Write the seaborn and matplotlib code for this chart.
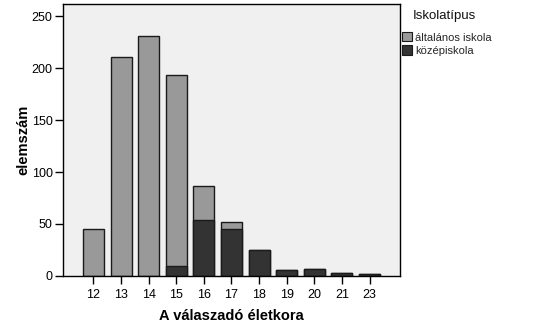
import matplotlib
matplotlib.use("Agg")
import matplotlib.pyplot as plt
import seaborn as sns
import pandas as pd
from matplotlib.patches import Patch

ages = ["12", "13", "14", "15", "16", "17", "18", "19", "20", "21", "23"]
altalanos = [45, 211, 231, 184, 33, 7, 0, 0, 0, 0, 0]
kozep = [0, 0, 0, 10, 54, 45, 25, 6, 7, 3, 2]
yticks = [0, 50, 100, 150, 200, 250]

light = "#999999"
dark = "#333333"

df = pd.DataFrame({"age": ages, "altalanos": altalanos, "kozep": kozep})
df["total"] = df["altalanos"] + df["kozep"]

sns.set_style("ticks")
plt.rcParams["font.family"] = ["Liberation Sans", "DejaVu Sans"]

fig = plt.figure(figsize=(5.34, 3.34), dpi=100)
ax = fig.add_axes([0.118, 0.174, 0.631, 0.814])
ax.set_facecolor("#F0F0F0")

# totals in light grey, the középiskola share drawn over them from the bottom
sns.barplot(data=df, x="age", y="total", order=ages, color=light,
            width=0.76, edgecolor="#1a1a1a", linewidth=1.0, saturation=1,
            ax=ax)
sns.barplot(data=df[df["kozep"] > 0], x="age", y="kozep", order=ages,
            color=dark, width=0.76, edgecolor="#1a1a1a", linewidth=1.0,
            saturation=1, ax=ax)

ax.set_xlim(-1.1, 11.1)
ax.set_ylim(0, 262)
ax.set_yticks(yticks)
ax.set_yticklabels([str(v) for v in yticks])
ax.tick_params(axis="both", direction="out", length=6, width=1,
               color="black", labelsize=9, colors="black")
ax.tick_params(axis="y", pad=1.5)
for s in ax.spines.values():
    s.set_visible(True)
    s.set_color("black")
    s.set_linewidth(1)

ax.set_xlabel("A válaszadó életkora", fontsize=10.5, fontweight="bold",
              labelpad=6, color="black")
ax.set_ylabel("elemszám", fontsize=10.5, fontweight="bold", labelpad=1,
              color="black")

fig.text(413 / 534, 1 - 16 / 334, "Iskolatípus", fontsize=9.5,
         ha="left", va="center", color="#111111")
handles = [Patch(facecolor=light, edgecolor="#1a1a1a", linewidth=0.8),
           Patch(facecolor=dark, edgecolor="#1a1a1a", linewidth=0.8)]
fig.legend(handles, ["általános iskola", "középiskola"],
           loc="upper left", bbox_to_anchor=(401 / 534, 1 - 31 / 334),
           frameon=False, fontsize=8, handlelength=0.9, handleheight=0.9,
           handletextpad=0.25, labelspacing=0.25, borderaxespad=0,
           borderpad=0.1)

fig.savefig("out.png", dpi=100, facecolor="white")
